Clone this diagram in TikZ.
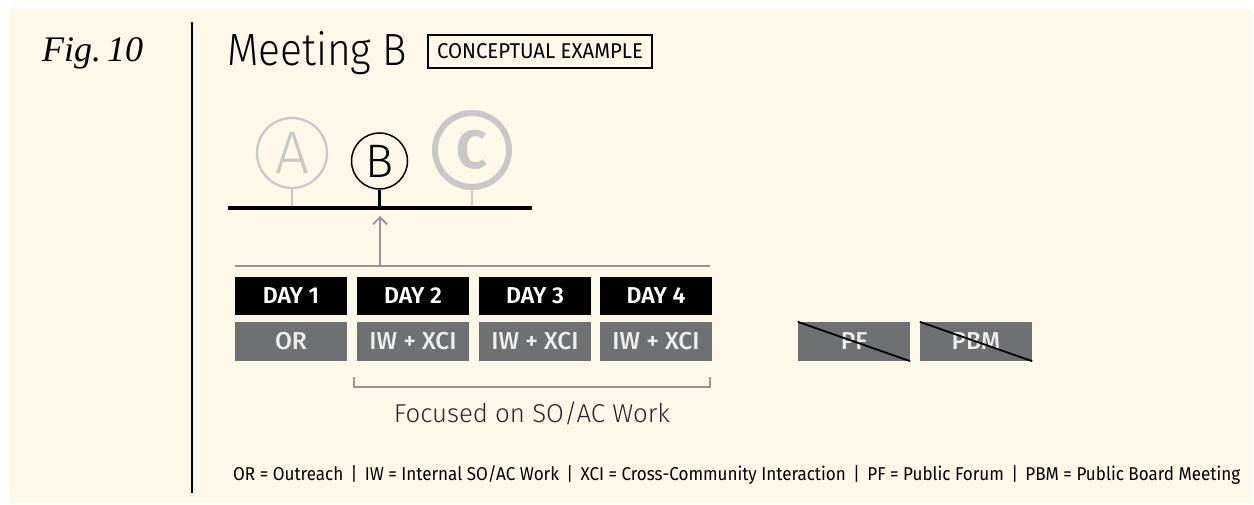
\documentclass[tikz,border=0pt]{standalone}
\usepackage{fontspec}
\setmainfont{Fira Sans}
\IfFontExistsTF{Fira Sans Light}{\newfontfamily\firalight{Fira Sans Light}}{\newfontfamily\firalight{Fira Sans}}
\IfFontExistsTF{Fira Sans Medium}{\newfontfamily\firamed{Fira Sans Medium}}{\newfontfamily\firamed{Fira Sans}}
\IfFontExistsTF{Fira Sans SemiBold}{\newfontfamily\firasemi{Fira Sans SemiBold}}{\newfontfamily\firasemi{Fira Sans}[UprightFont=*Bold]}
\newfontfamily\figserif{Liberation Serif}
\usetikzlibrary{arrows.meta}
\definecolor{cream}{RGB}{254,248,232}
\definecolor{boxgray}{RGB}{111,112,114}
\definecolor{lightgray}{RGB}{200,200,200}
\definecolor{midgray}{RGB}{150,150,150}
\tikzset{
  daybox/.style={fill=black, text=white, minimum width=112pt, minimum height=38pt, inner sep=0pt, font=\firasemi\fontsize{23}{23}\selectfont},
  actbox/.style={fill=boxgray, text=white!93!black, minimum width=112pt, minimum height=39pt, inner sep=0pt, font=\firamed\fontsize{24.5}{24.5}\selectfont},
}
\begin{document}
\begin{tikzpicture}[x=1pt,y=-1pt]
\useasboundingbox (0,0) rectangle (1254,505);
\fill[white] (0,0) rectangle (1254,505);
\fill[cream] (10,9) rectangle (1252,503);
% title column
\node[anchor=base west, inner sep=0pt, font=\figserif\itshape\fontsize{35}{35}\selectfont] (fig) at (42,62) {\resizebox{101pt}{!}{Fig.\,10}};
\draw[line width=2pt] (192,22) -- (192,493);
\node[anchor=base west, inner sep=0pt, font=\firalight\fontsize{47}{47}\selectfont] (title) at (227,66) {\resizebox{180pt}{34pt}{Meeting B}};
\node[draw, line width=1.5pt, minimum width=224pt, minimum height=33pt, inner sep=0pt, font=\fontsize{21}{21}\selectfont] (concept) at (540,51.5) {\resizebox{206pt}{15pt}{CONCEPTUAL EXAMPLE}};
% timeline
\coordinate (tlL) at (228,208);
\coordinate (tlR) at (532,208);
\node[circle, draw=lightgray, line width=2.2pt, minimum size=70pt, inner sep=0pt, text=lightgray, font=\firalight\fontsize{60}{60}\selectfont] (A) at (292,153) {A};
\node[circle, draw=black, line width=1.5pt, minimum size=56pt, inner sep=0pt, font=\firalight\fontsize{47}{47}\selectfont] (B) at (379.5,161) {B};
\node[circle, draw=lightgray, line width=6pt, minimum size=74pt, inner sep=0pt, text=lightgray, font=\bfseries\fontsize{54}{54}\selectfont] (C) at (472,150) {C};
\coordinate (Ab) at (292,208);
\coordinate (Bb) at (379.5,208);
\coordinate (Cb) at (472,208);
\draw[lightgray, line width=2.5pt] (A.south) -- (Ab);
\draw[lightgray, line width=2.5pt] (C.south) -- (Cb);
\draw[black, line width=3pt] (B.south) -- (Bb);
\draw[line width=4pt] (tlL) -- (tlR);
% arrow and bar
\coordinate (barL) at (235,266);
\coordinate (barR) at (710,266);
\coordinate (barM) at (380,266);
\coordinate (arrTop) at (380,216);
\draw[midgray, line width=1.8pt] (barL) -- (barR);
\draw[midgray, line width=1.8pt, -{Straight Barb[length=7pt,width=14pt,line width=1.8pt]}] (barM) -- (arrTop);
% days
\node[daybox] (d1) at (291,296) {DAY 1};
\node[daybox] (d2) at (413,296) {DAY 2};
\node[daybox] (d3) at (535,296) {DAY 3};
\node[daybox] (d4) at (656,296) {DAY 4};
\node[actbox] (a1) at (291,341.5) {OR};
\node[actbox] (a2) at (413,341.5) {IW + XCI};
\node[actbox] (a3) at (535,341.5) {IW + XCI};
\node[actbox] (a4) at (656,341.5) {IW + XCI};
\node[actbox] (pf) at (854,341.5) {PF};
\node[actbox] (pbm) at (976,341.5) {PBM};
\draw[line width=1.8pt] (pf.north west) -- (pf.south east);
\draw[line width=1.8pt] (pbm.north west) -- (pbm.south east);
% bracket
\coordinate (brA) at (354,377);
\coordinate (brB) at (354,387);
\coordinate (brC) at (710,387);
\coordinate (brD) at (710,377);
\draw[midgray, line width=1.8pt] (brA) -- (brB) -- (brC) -- (brD);
\node[anchor=base, inner sep=0pt, font=\firalight\fontsize{27}{27}\selectfont, text=black!85] (focus) at (532,422) {\resizebox{276pt}{!}{Focused on SO/AC Work}};
% legend
\node[anchor=base west, inner sep=0pt, font=\fontsize{18}{18}\selectfont] (legend) at (233,480) {\resizebox{1007pt}{15pt}{OR = Outreach \,|\, IW = Internal SO/AC Work \,|\, XCI = Cross-Community Interaction \,|\, PF = Public Forum \,|\, PBM = Public Board Meeting}};
\end{tikzpicture}
\end{document}
